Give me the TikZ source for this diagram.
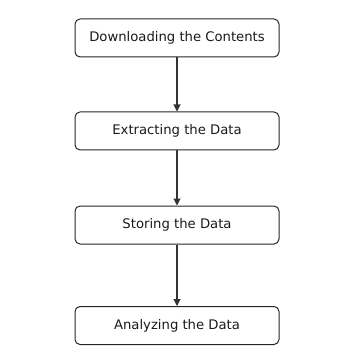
\documentclass[tikz,border=0pt]{standalone}
\usepackage{fontspec}
\setmainfont{DejaVu Sans}
\usetikzlibrary{arrows.meta}
\begin{document}
\begin{tikzpicture}[x=1pt,y=-1pt,
  stepbox/.style={draw=black!85,line width=1pt,rounded corners=5pt,minimum width=204pt,minimum height=38pt,inner sep=0pt,font=\fontsize{13.2}{15}\selectfont,text=black!90},
  flow/.style={draw=black!80,line width=1.1pt,-{Triangle[length=7pt,width=7pt]}}]
\useasboundingbox (0,0) rectangle (355,363);
\node[stepbox] (a) at (177,38) {Downloading the Contents};
\node[stepbox] (b) at (177,131) {Extracting the Data};
\node[stepbox] (c) at (177,225) {Storing the Data};
\node[stepbox] (d) at (177,325.5) {Analyzing the Data};
\draw[flow] (a) -- (b);
\draw[flow] (b) -- (c);
\draw[flow] (c) -- (d);
\end{tikzpicture}
\end{document}
